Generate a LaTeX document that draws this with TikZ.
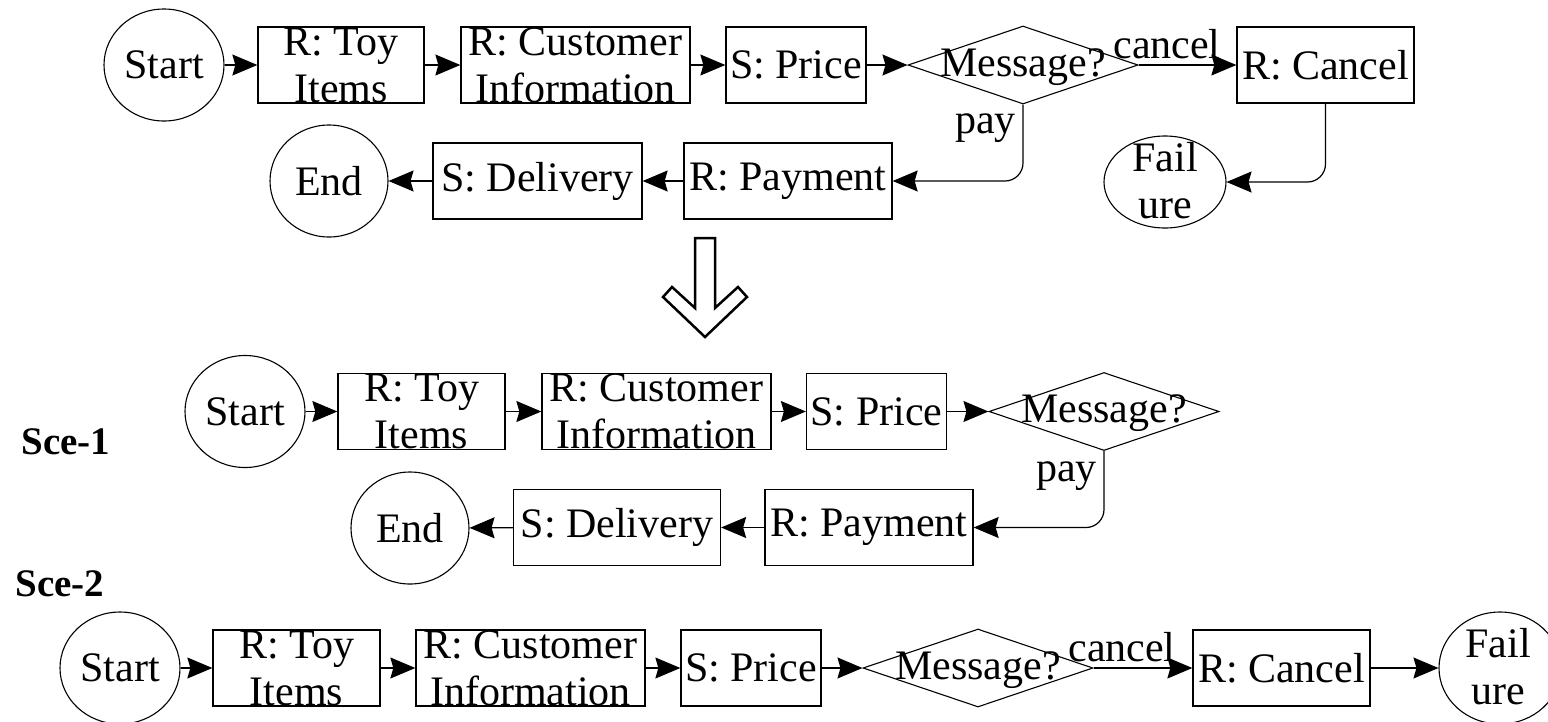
\documentclass[tikz,border=0pt]{standalone}
\usepackage{fontspec}
\setmainfont{Liberation Serif}
\usetikzlibrary{shapes.geometric,arrows.meta}
\begin{document}
\begin{tikzpicture}[x=1pt,y=-1pt,
  every node/.style={font=\fontsize{42}{47}\selectfont},
  box/.style={draw, line width=1.3pt, inner sep=0pt, align=center, minimum height=76pt},
  oval/.style={draw, ellipse, line width=1.1pt, inner sep=0pt, minimum width=120pt, minimum height=112pt, align=center},
  dia/.style={draw, diamond, line width=1.1pt, inner sep=0pt, minimum width=230pt, minimum height=78pt},
  txt/.style={inner sep=0pt, align=center},
  arr/.style={line width=1.2pt, -{Stealth[length=25pt,width=21pt,inset=3pt]}},
  lab/.style={inner sep=0pt, anchor=base east},
  scelab/.style={inner sep=0pt, font=\fontsize{39}{44}\selectfont\bfseries},
  rc/.style={rounded corners=18pt}
]
\useasboundingbox (0,0) rectangle (1548,721);

% ---------- original model ----------
\node[oval] (s0) at (164,65) {Start};
\node[box, minimum width=166pt] (t0) at (341,65) {R: Toy\\Items};
\node[box, minimum width=229pt] (c0) at (575.5,65) {R: Customer\\Information};
\node[box, minimum width=140pt] (p0) at (796,65) {S: Price};
\node[dia] (d0) at (1023,65) {};
\node[txt] (m0) at (1023,67) {Message?};
\node[box, minimum width=177pt] (x0) at (1325.5,65) {R: Cancel};
\node[oval, minimum width=122pt, minimum height=92pt] (f0) at (1165,182) {};
\node[txt] (g0) at (1165,181) {Fail\\ure};
\node[oval, minimum width=118pt] (e0) at (329,181) {End};
\node[box, minimum width=209pt] (v0) at (537.5,181) {S: Delivery};
\node[box, minimum width=208pt] (y0) at (788,181) {R: Payment};
\node[inner sep=0pt, anchor=base] (k0) at (1167,58) {cancel};
\node[lab] (q0) at (1016,133) {pay};

\draw[arr] (s0) -- (t0);
\draw[arr] (t0) -- (c0);
\draw[arr] (c0) -- (p0);
\draw[arr] (p0) -- (d0.west);
\draw[arr] (d0.east) -- (x0.west);
\draw[arr, rc] (d0.south) |- (y0.east);
\draw[arr, rc] (x0.south) |- (f0.east);
\draw[arr] (y0) -- (v0);
\draw[arr] (v0) -- (e0);

% ---------- transformation arrow ----------
\draw[line width=2.5pt, line join=miter] (695,238) -- (715,238) -- (715,308) -- (738,287) -- (747,297)
  -- (705,337) -- (663,297) -- (672,287) -- (695,308) -- cycle;

% ---------- Sce-1 ----------
\node[scelab] (l1) at (66,442) {Sce-1};
\node[oval] (s1) at (245,411.5) {Start};
\node[box, minimum width=167pt] (t1) at (421.5,411.5) {R: Toy\\Items};
\node[box, minimum width=229pt] (c1) at (656.5,411.5) {R: Customer\\Information};
\node[box, minimum width=140pt] (p1) at (876.5,411.5) {S: Price};
\node[dia] (d1) at (1104,411.5) {};
\node[txt] (m1) at (1104,413.5) {Message?};
\node[oval, minimum width=118pt] (e1) at (410,528) {End};
\node[box, minimum width=207pt] (v1) at (617,527.5) {S: Delivery};
\node[box, minimum width=208pt] (y1) at (869,527.5) {R: Payment};
\node[lab] (q1) at (1097,481) {pay};

\draw[arr] (s1) -- (t1);
\draw[arr] (t1) -- (c1);
\draw[arr] (c1) -- (p1);
\draw[arr] (p1) -- (d1.west);
\draw[arr, rc] (d1.south) |- (y1.east);
\draw[arr] (y1) -- (v1);
\draw[arr] (v1) -- (e1);

% ---------- Sce-2 ----------
\node[scelab] (l2) at (60,584) {Sce-2};
\node[oval] (s2) at (120,668) {Start};
\node[box, minimum width=167pt] (t2) at (296.5,668) {R: Toy\\Items};
\node[box, minimum width=229pt] (c2) at (530.5,668) {R: Customer\\Information};
\node[box, minimum width=140pt] (p2) at (751,668) {S: Price};
\node[dia] (d2) at (978,668) {};
\node[txt] (m2) at (978,670) {Message?};
\node[box, minimum width=177pt] (x2) at (1281.5,668) {R: Cancel};
\node[oval, minimum width=122pt] (f2) at (1500,668) {};
\node[txt] (g2) at (1498,667) {Fail\\ure};
\node[inner sep=0pt, anchor=base] (k2) at (1122,661) {cancel};

\draw[arr] (s2) -- (t2);
\draw[arr] (t2) -- (c2);
\draw[arr] (c2) -- (p2);
\draw[arr] (p2) -- (d2.west);
\draw[arr] (d2.east) -- (x2.west);
\draw[arr] (x2) -- (f2);
\end{tikzpicture}
\end{document}
